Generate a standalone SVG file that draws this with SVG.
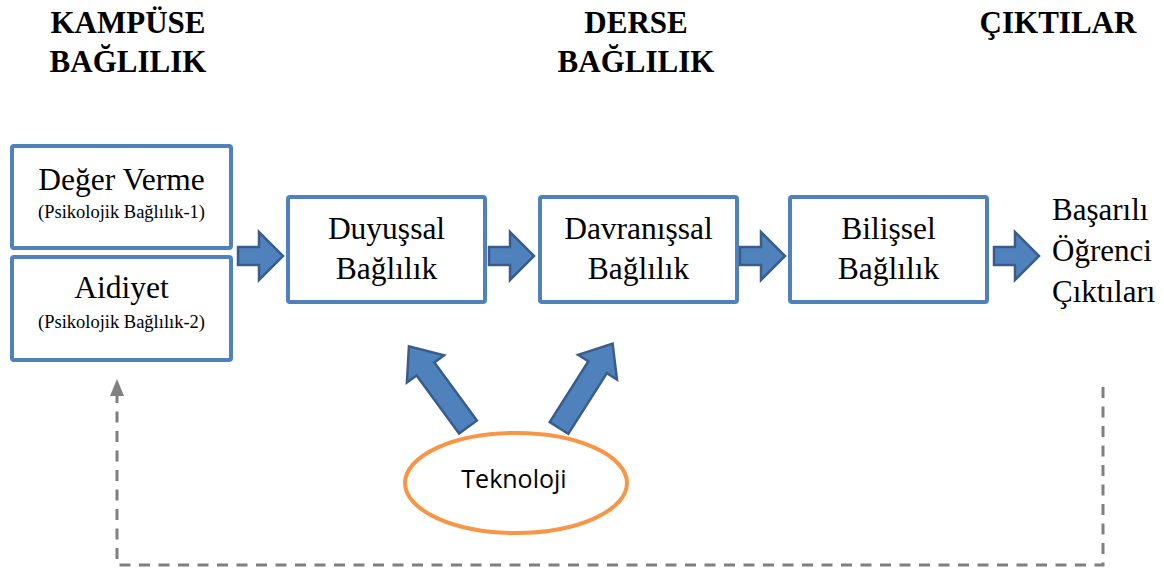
<svg xmlns="http://www.w3.org/2000/svg" width="1164" height="571" viewBox="0 0 1164 571">
  <style>
    .head { font-family: "Liberation Serif", "Times New Roman", serif; font-weight: bold; font-size: 31px; fill: #000; text-anchor: middle; }
    .lbl { font-family: "Liberation Serif", "Times New Roman", serif; font-size: 31.5px; fill: #000; text-anchor: middle; }
    .sub { font-family: "Liberation Serif", "Times New Roman", serif; font-size: 18.5px; fill: #000; text-anchor: middle; }
    .out { font-family: "Liberation Serif", "Times New Roman", serif; font-size: 31px; fill: #000; }
    .box { fill: #fff; stroke: #4F81BD; stroke-width: 4; }
    .blk { fill: #4F81BD; stroke: #385D8A; stroke-width: 2.5; stroke-linejoin: miter; }
    .tech { fill: #fff; stroke: #F79646; stroke-width: 4; }
    .sans { font-family: "Open Sans", "Liberation Sans", sans-serif; font-size: 25px; fill: #000; text-anchor: middle; }
    .dash { fill: none; stroke: #808080; stroke-width: 3; stroke-dasharray: 11 8.5; }
  </style>
  <defs>
    <!-- block arrow pointing right, origin at tail centre -->
    <polygon id="blockH" points="0,-9 21,-9 21,-24 45,0 21,24 21,9 0,9"/>
    <polygon id="blockD" points="0,-11 72,-11 72,-23 100,0 72,23 72,11 0,11"/>
  </defs>

  <!-- column headings -->
  <g id="headings">
    <text class="head" x="128" y="33">KAMPÜSE</text>
    <text class="head" x="128" y="72">BAĞLILIK</text>
    <text class="head" x="636" y="33">DERSE</text>
    <text class="head" x="636" y="72">BAĞLILIK</text>
    <text class="head" x="1058" y="33">ÇIKTILAR</text>
  </g>

  <g id="deger-verme">
    <rect class="box" x="12" y="146" width="219" height="102" rx="2"/>
    <text class="lbl" x="121.5" y="190">Değer Verme</text>
    <text class="sub" x="121.5" y="218">(Psikolojik Bağlılık-1)</text>
  </g>

  <g id="aidiyet">
    <rect class="box" x="12" y="257" width="219" height="103" rx="2"/>
    <text class="lbl" x="121.5" y="298">Aidiyet</text>
    <text class="sub" x="121.5" y="328">(Psikolojik Bağlılık-2)</text>
  </g>

  <g id="duyussal">
    <rect class="box" x="288" y="197" width="197" height="105" rx="2"/>
    <text class="lbl" x="386.5" y="239">Duyuşsal</text>
    <text class="lbl" x="386.5" y="279">Bağlılık</text>
  </g>

  <g id="davranissal">
    <rect class="box" x="540" y="197" width="197" height="105" rx="2"/>
    <text class="lbl" x="638.5" y="239">Davranışsal</text>
    <text class="lbl" x="638.5" y="279">Bağlılık</text>
  </g>

  <g id="bilissel">
    <rect class="box" x="790" y="197" width="197" height="105" rx="2"/>
    <text class="lbl" x="888.5" y="239">Bilişsel</text>
    <text class="lbl" x="888.5" y="279">Bağlılık</text>
  </g>

  <g id="ciktilar">
    <text class="out" x="1052" y="220">Başarılı</text>
    <text class="out" x="1052" y="261">Öğrenci</text>
    <text class="out" x="1052" y="302">Çıktıları</text>
  </g>

  <g id="teknoloji">
    <ellipse class="tech" cx="516" cy="483" rx="111" ry="50"/>
    <text class="sans" x="514" y="488">Teknoloji</text>
  </g>

  <g id="connectors">
    <!-- flow arrows between stages -->
    <use href="#blockH" class="blk" transform="translate(238,256)"/>
    <use href="#blockH" class="blk" transform="translate(489,256)"/>
    <use href="#blockH" class="blk" transform="translate(740,256)"/>
    <use href="#blockH" class="blk" transform="translate(994,256)"/>
    <!-- technology support arrows -->
    <use href="#blockD" class="blk" transform="translate(468,427) rotate(-126.2)"/>
    <use href="#blockD" class="blk" transform="translate(559,428) rotate(-57.6)"/>
    <!-- feedback loop -->
    <polyline class="dash" points="1103,387 1103,565 117,565 117,396"/>
    <polygon points="117,379 110,396 124,396" fill="#808080"/>
  </g>
</svg>
